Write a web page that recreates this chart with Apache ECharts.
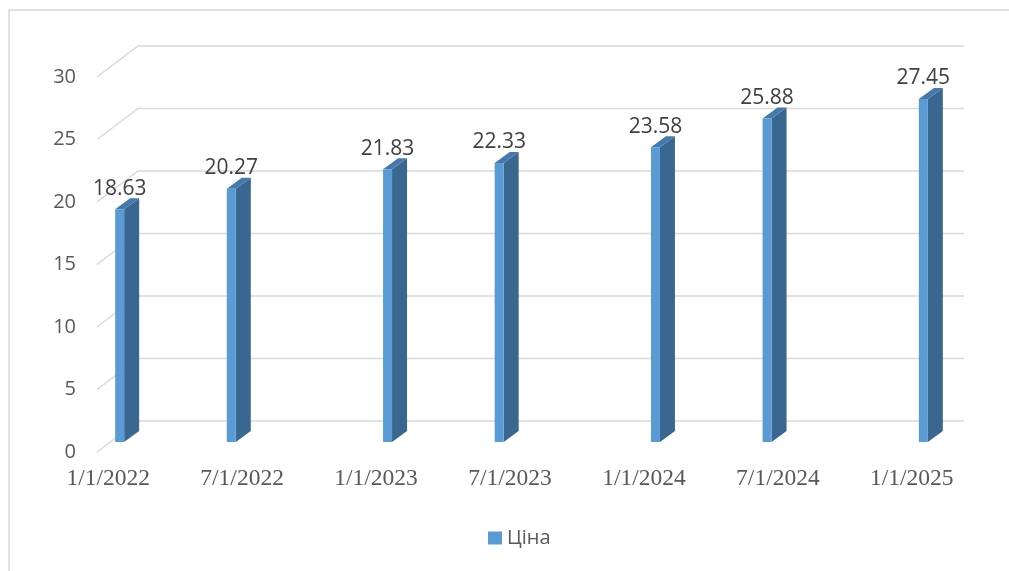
<!DOCTYPE html>
<html>
<head>
<meta charset="utf-8">
<script src="https://cdn.jsdelivr.net/npm/echarts@6/dist/echarts.min.js"></script>
<style>
  html, body { margin: 0; padding: 0; background: #ffffff; }
  #chart { width: 1009px; height: 571px; }
</style>
</head>
<body>
<div id="chart"></div>
<script>
// Price observations (date, value)
const dates = ['2022-01-01', '2022-06-01', '2023-01-01', '2023-06-01', '2024-01-01', '2024-06-01', '2025-01-01'];
const prices = [18.63, 20.27, 21.83, 22.33, 23.58, 25.88, 27.45];
const seriesName = 'Ціна';

// Date axis labels, one every six months
const tickLabels = ['1/1/2022', '7/1/2022', '1/1/2023', '7/1/2023', '1/1/2024', '7/1/2024', '1/1/2025'];
const yTicks = [0, 5, 10, 15, 20, 25, 30];

// Monthly category axis spanning the data range
const startYear = 2022, startMonth = 0;
function monthIndex(d) {
  const [y, m] = d.split('-').map(Number);
  return (y - startYear) * 12 + (m - 1 - startMonth);
}
const lastIndex = monthIndex(dates[dates.length - 1]);
const months = [];
for (let i = 0; i <= lastIndex; i++) {
  const y = startYear + Math.floor(i / 12);
  const m = (i % 12) + 1;
  months.push(y + '-' + String(m).padStart(2, '0'));
}
const barData = dates.map((d, i) => [monthIndex(d), prices[i]]);

// 3D look: wall depth and bar geometry (px)
const WALL_DX = 41, WALL_DY = -31;
const BAR_OFF_X = 7, BAR_W = 9, BAR_FRONT_DY = -10;
const BAR_DX = 15, BAR_DY = -11;

const FRONT = '#5B9BD5', SIDE = '#3A6790', TOP = '#4479AD';
const GRID_COLOR = '#D9D9D9', TEXT = '#595959', LABEL_TEXT = '#404040';

function renderGridLine(params, api) {
  const cs = params.coordSys;
  const y = api.coord([0, api.value(0)])[1];
  return {
    type: 'polyline',
    shape: { points: [[cs.x, y], [cs.x + WALL_DX, y + WALL_DY], [cs.x + cs.width + WALL_DX, y + WALL_DY]] },
    style: { stroke: GRID_COLOR, lineWidth: 1.5, fill: null },
    silent: true
  };
}

function renderBar(params, api) {
  const topPt = api.coord([api.value(0), api.value(1)]);
  const basePt = api.coord([api.value(0), 0]);
  const xl = topPt[0] + BAR_OFF_X;
  const xr = xl + BAR_W;
  const yt = topPt[1] + BAR_FRONT_DY;
  const yb = basePt[1] + BAR_FRONT_DY;
  return {
    type: 'group',
    children: [
      {
        type: 'polygon',
        shape: { points: [[xr, yt], [xr + BAR_DX, yt + BAR_DY], [xr + BAR_DX, yb + BAR_DY], [xr, yb]] },
        style: { fill: SIDE }
      },
      {
        type: 'polygon',
        shape: { points: [[xl, yt], [xr, yt], [xr + BAR_DX, yt + BAR_DY], [xl + BAR_DX, yt + BAR_DY]] },
        style: { fill: TOP }
      },
      {
        type: 'rect',
        shape: { x: xl, y: yt, width: BAR_W, height: yb - yt },
        style: { fill: FRONT }
      },
      {
        type: 'text',
        x: xl + BAR_W / 2,
        y: yt + BAR_DY + 1,
        style: {
          text: api.value(1).toFixed(2),
          fill: LABEL_TEXT,
          font: '21px "Open Sans"',
          align: 'center',
          verticalAlign: 'bottom'
        }
      }
    ]
  };
}

const chart = echarts.init(document.getElementById('chart'), null, { renderer: 'canvas' });
chart.setOption({
  animation: false,
  backgroundColor: '#ffffff',
  graphic: [{
    type: 'rect',
    shape: { x: 9, y: 10, width: 1100, height: 700 },
    style: { fill: null, stroke: GRID_COLOR, lineWidth: 1.5 },
    silent: true
  }],
  grid: { left: 97, right: 86, top: 77, bottom: 119, containLabel: false },
  legend: {
    left: 483,
    top: 523,
    itemWidth: 14,
    itemHeight: 13,
    itemGap: 6,
    textStyle: { color: TEXT, fontSize: 20, fontFamily: 'Open Sans' },
    data: [{ name: seriesName, icon: 'rect', itemStyle: { color: FRONT } }]
  },
  xAxis: {
    type: 'category',
    data: months,
    boundaryGap: true,
    axisLine: { show: false },
    axisTick: { show: false },
    splitLine: { show: false },
    axisLabel: {
      interval: (i) => i % 6 === 0,
      formatter: (v, i) => tickLabels[i / 6],
      color: TEXT,
      fontFamily: 'Liberation Serif',
      fontSize: 23.5,
      margin: 15
    }
  },
  yAxis: {
    type: 'value',
    min: 0,
    max: 30,
    interval: 5,
    axisLine: { show: false },
    axisTick: { show: false },
    splitLine: { show: false },
    axisLabel: {
      color: TEXT,
      fontFamily: 'Open Sans',
      fontSize: 20,
      margin: 21,
      padding: [4, 0, 0, 0]
    }
  },
  series: [
    {
      type: 'custom',
      name: 'grid',
      renderItem: renderGridLine,
      data: yTicks.map(v => [v]),
      encode: { y: 0 },
      z: 1,
      silent: true,
      clip: false
    },
    {
      type: 'custom',
      name: seriesName,
      renderItem: renderBar,
      data: barData,
      encode: { x: 0, y: 1 },
      itemStyle: { color: FRONT },
      z: 2,
      clip: false
    }
  ]
});
</script>
</body>
</html>
